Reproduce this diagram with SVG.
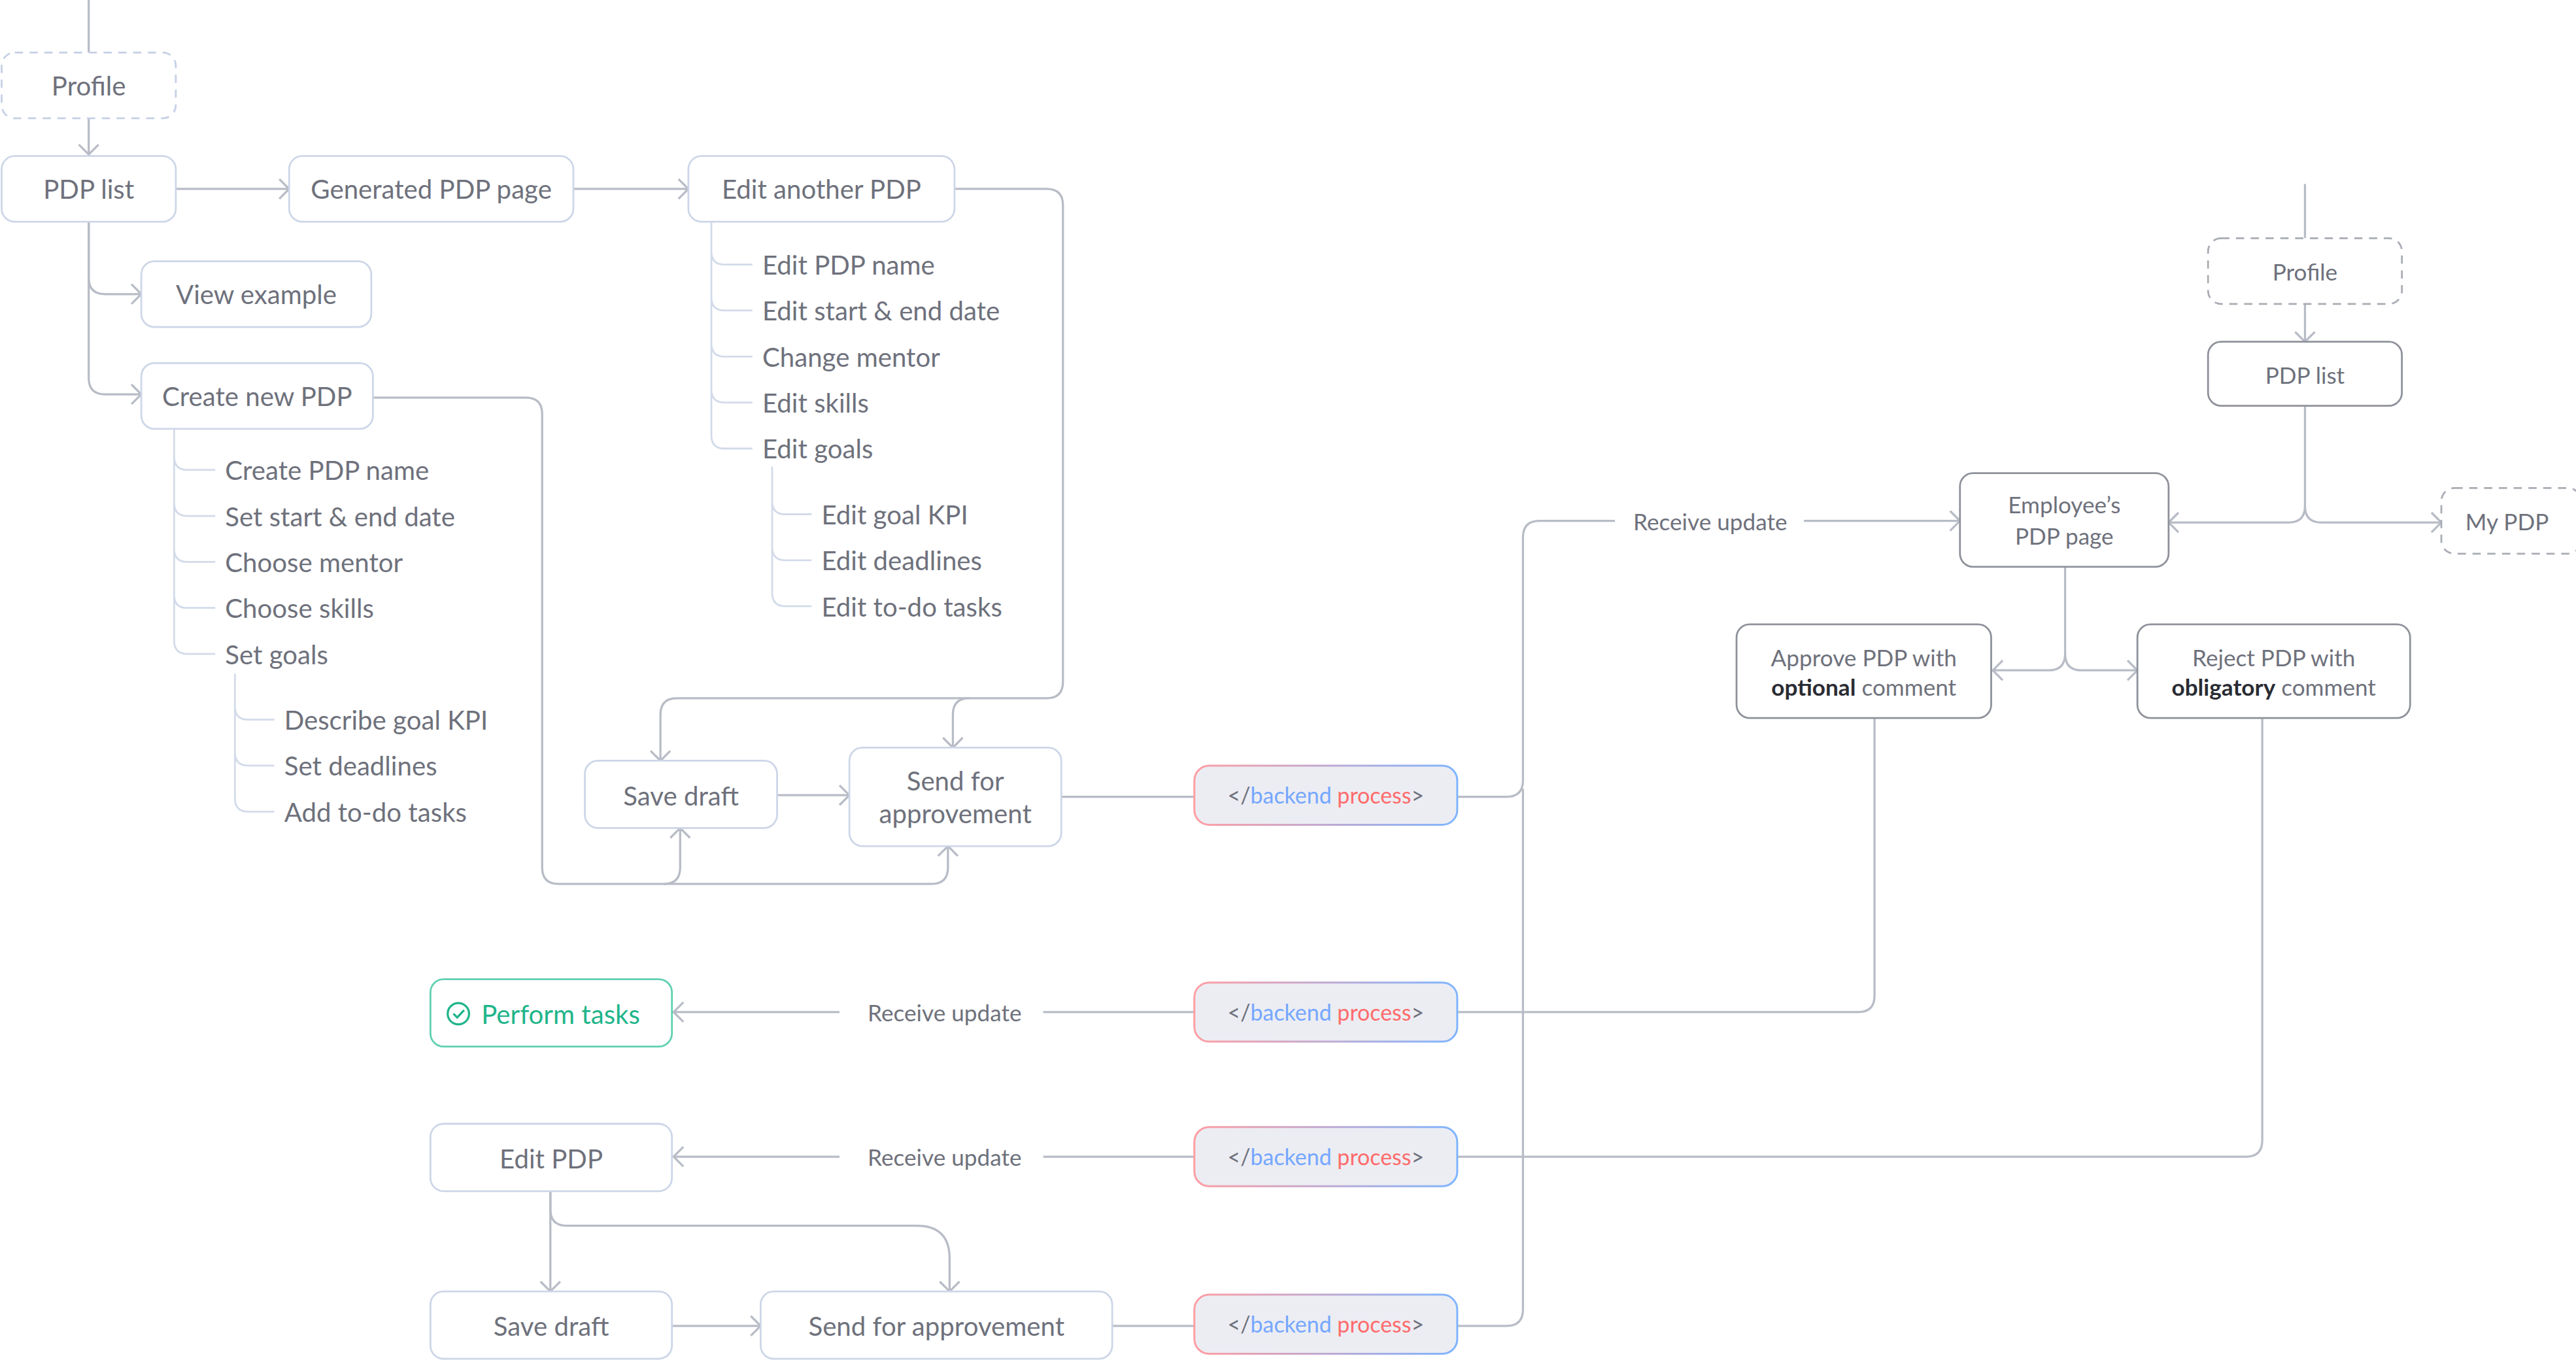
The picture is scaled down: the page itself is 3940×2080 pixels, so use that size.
<svg xmlns="http://www.w3.org/2000/svg" width="3940" height="2080" viewBox="0 0 3940 2080">
<defs>
<style>
.n{fill:#fff;stroke:#cdd6e8;stroke-width:1.1}
.d{fill:#fff;stroke:#b9bcc4;stroke-width:1.1}
.ds{fill:#fff;stroke:#a9acb4;stroke-width:1.1;stroke-dasharray:5 4}
.dl{fill:#fff;stroke:#c5d0e6;stroke-width:1.1;stroke-dasharray:5 4}
.c{fill:none;stroke:#b8bcc6;stroke-width:1.3}
.t{fill:none;stroke:#d3dbea;stroke-width:1.1}
text{font-family:"Lato","Noto Sans",sans-serif;fill:#6e717c;font-size:16px}
.tc{text-anchor:middle;dominant-baseline:central}
.tl{dominant-baseline:central}
.sm{font-size:14px}
.b{font-weight:bold;fill:#2a2c33}
.bp{font-size:13.5px;text-anchor:middle;dominant-baseline:central}
</style>
<linearGradient id="g" x1="0" y1="0" x2="1" y2="0"><stop offset="0" stop-color="#ff9ea3"/><stop offset="1" stop-color="#80b5ff"/></linearGradient>
<marker id="a" markerUnits="userSpaceOnUse" markerWidth="12" markerHeight="14" refX="8" refY="7" orient="auto"><path d="M2,1 L8,7 L2,13" fill="none" stroke="#b8bcc6" stroke-width="1.3"/></marker>
</defs>
<rect width="3940" height="2080" fill="#fff"/>
<g transform="scale(2.5128)">
<g id="connectors">
<path class="c" d="M54,0 V32"/>
<path class="c" d="M54,72 V94" marker-end="url(#a)"/>
<path class="c" d="M107,115 H176" marker-end="url(#a)"/>
<path class="c" d="M349,115 H419" marker-end="url(#a)"/>
<path class="c" d="M54,135 V169 Q54,179 64,179 H86" marker-end="url(#a)"/>
<path class="c" d="M54,135 V230 Q54,240 64,240 H86" marker-end="url(#a)"/>
<path class="c" d="M581,115 H637 Q647,115 647,125 V415 Q647,425 637,425 H412 Q402,425 402,435 V463" marker-end="url(#a)"/>
<path class="c" d="M590,425 Q580,425 580,435 V455" marker-end="url(#a)"/>
<path class="c" d="M227,242 H320 Q330,242 330,252 V528 Q330,538 340,538 H404 Q414,538 414,528 V504" marker-end="url(#a)"/>
<path class="c" d="M404,538 H567 Q577,538 577,528 V515" marker-end="url(#a)"/>
<path class="c" d="M473,484 H517" marker-end="url(#a)"/>
<path class="c" d="M646,485 H727"/>
<path class="c" d="M887,485 H917 Q927,485 927,475 V327 Q927,317 937,317 H983"/>
<path class="c" d="M1098,317 H1193" marker-end="url(#a)"/>
<path class="c" d="M887,807 H917 Q927,807 927,797 V480"/>
<path class="c" d="M1403,112 V145"/>
<path class="c" d="M1403,185 V208" marker-end="url(#a)"/>
<path class="c" d="M1403,247 V308 Q1403,318 1393,318 H1320" marker-end="url(#a)"/>
<path class="c" d="M1403,308 Q1403,318 1413,318 H1486" marker-end="url(#a)"/>
<path class="c" d="M1257,345 V398 Q1257,408 1247,408 H1213" marker-end="url(#a)"/>
<path class="c" d="M1257,398 Q1257,408 1267,408 H1301" marker-end="url(#a)"/>
<path class="c" d="M1141,437 V606 Q1141,616 1131,616 H887"/>
<path class="c" d="M727,616 H635"/>
<path class="c" d="M511,616 H410" marker-end="url(#a)"/>
<path class="c" d="M1377,437 V694 Q1377,704 1367,704 H887"/>
<path class="c" d="M727,704 H635"/>
<path class="c" d="M511,704 H410" marker-end="url(#a)"/>
<path class="c" d="M335,725 V786" marker-end="url(#a)"/>
<path class="c" d="M335,725 V736 Q335,746 345,746 H558 Q578,746 578,766 V786" marker-end="url(#a)"/>
<path class="c" d="M409,807 H463" marker-end="url(#a)"/>
<path class="c" d="M677,807 H727"/>
<path class="t" d="M106,261 V278 Q106,286 114,286 H131 M106,278 V306 Q106,314 114,314 H131 M106,306 V334 Q106,342 114,342 H131 M106,334 V362 Q106,370 114,370 H131 M106,362 V390 Q106,398 114,398 H131"/>
<path class="t" d="M143,410 V430 Q143,438 151,438 H167 M143,430 V458 Q143,466 151,466 H167 M143,458 V486 Q143,494 151,494 H167"/>
<path class="t" d="M433,135 V153 Q433,161 441,161 H458 M433,153 V181 Q433,189 441,189 H458 M433,181 V209 Q433,217 441,217 H458 M433,209 V237 Q433,245 441,245 H458 M433,237 V265 Q433,273 441,273 H458"/>
<path class="t" d="M470,284 V305 Q470,313 478,313 H494 M470,305 V333 Q470,341 478,341 H494 M470,333 V361 Q470,369 478,369 H494"/>
</g>
<g id="profile1"><rect class="dl" x="1" y="32" width="106" height="40" rx="8"/><text class="tc" x="54" y="52">Profile</text></g>
<g id="pdplist1"><rect class="n" x="1" y="95" width="106" height="40" rx="8"/><text class="tc" x="54" y="115">PDP list</text></g>
<g id="generated"><rect class="n" x="176" y="95" width="173" height="40" rx="8"/><text class="tc" x="262.5" y="115">Generated PDP page</text></g>
<g id="editanother"><rect class="n" x="419" y="95" width="162" height="40" rx="8"/><text class="tc" x="500" y="115">Edit another PDP</text></g>
<g id="viewexample"><rect class="n" x="86" y="159" width="140" height="40" rx="8"/><text class="tc" x="156" y="179">View example</text></g>
<g id="createnew"><rect class="n" x="86" y="221" width="141" height="40" rx="8"/><text class="tc" x="156.5" y="241">Create new PDP</text></g>
<g id="createitems">
<text class="tl" x="137" y="286">Create PDP name</text>
<text class="tl" x="137" y="314">Set start &amp; end date</text>
<text class="tl" x="137" y="342">Choose mentor</text>
<text class="tl" x="137" y="370">Choose skills</text>
<text class="tl" x="137" y="398">Set goals</text>
<text class="tl" x="173" y="438">Describe goal KPI</text>
<text class="tl" x="173" y="466">Set deadlines</text>
<text class="tl" x="173" y="494">Add to-do tasks</text>
</g>
<g id="edititems">
<text class="tl" x="464" y="161">Edit PDP name</text>
<text class="tl" x="464" y="189">Edit start &amp; end date</text>
<text class="tl" x="464" y="217">Change mentor</text>
<text class="tl" x="464" y="245">Edit skills</text>
<text class="tl" x="464" y="273">Edit goals</text>
<text class="tl" x="500" y="313">Edit goal KPI</text>
<text class="tl" x="500" y="341">Edit deadlines</text>
<text class="tl" x="500" y="369">Edit to-do tasks</text>
</g>
<g id="savedraft1"><rect class="n" x="356" y="463" width="117" height="41" rx="8"/><text class="tc" x="414.5" y="484">Save draft</text></g>
<g id="send1"><rect class="n" x="517" y="455" width="129" height="60" rx="8"/><text class="tc" x="581.5" y="475">Send for</text><text class="tc" x="581.5" y="495">approvement</text></g>
<g id="backend1"><rect x="727" y="466" width="160" height="36" rx="9" fill="#ecedf3" stroke="url(#g)" stroke-width="1.2"/><text class="bp" x="807" y="484">&lt;/<tspan fill="#74a7ff">backend</tspan> <tspan fill="#ff6b6b">process</tspan>&gt;</text></g>
<g id="backend2"><rect x="727" y="598" width="160" height="36" rx="9" fill="#ecedf3" stroke="url(#g)" stroke-width="1.2"/><text class="bp" x="807" y="616">&lt;/<tspan fill="#74a7ff">backend</tspan> <tspan fill="#ff6b6b">process</tspan>&gt;</text></g>
<g id="backend3"><rect x="727" y="686" width="160" height="36" rx="9" fill="#ecedf3" stroke="url(#g)" stroke-width="1.2"/><text class="bp" x="807" y="704">&lt;/<tspan fill="#74a7ff">backend</tspan> <tspan fill="#ff6b6b">process</tspan>&gt;</text></g>
<g id="backend4"><rect x="727" y="788" width="160" height="36" rx="9" fill="#ecedf3" stroke="url(#g)" stroke-width="1.2"/><text class="bp" x="807" y="806">&lt;/<tspan fill="#74a7ff">backend</tspan> <tspan fill="#ff6b6b">process</tspan>&gt;</text></g>
<g id="labels">
<text class="tc sm" x="1041" y="317">Receive update</text>
<text class="tc sm" x="575" y="616">Receive update</text>
<text class="tc sm" x="575" y="704">Receive update</text>
</g>
<g id="perform"><rect x="262" y="596" width="147" height="41" rx="8" fill="#fff" stroke="#5fd0b0" stroke-width="1.1"/><circle cx="279" cy="617" r="6.5" fill="none" stroke="#1fb58a" stroke-width="1.3"/><path d="M276,617 L278.3,619.3 L282.5,614.8" fill="none" stroke="#1fb58a" stroke-width="1.3"/><text class="tl" x="293" y="617" style="fill:#1fb58a">Perform tasks</text></g>
<g id="editpdp"><rect class="n" x="262" y="684" width="147" height="41" rx="8"/><text class="tc" x="335.5" y="705">Edit PDP</text></g>
<g id="savedraft2"><rect class="n" x="262" y="786" width="147" height="41" rx="8"/><text class="tc" x="335.5" y="807">Save draft</text></g>
<g id="send2"><rect class="n" x="463" y="786" width="214" height="41" rx="8"/><text class="tc" x="570" y="807">Send for approvement</text></g>
<g id="profile2"><rect class="ds" x="1344" y="145" width="118" height="40" rx="8"/><text class="tc sm" x="1403" y="165">Profile</text></g>
<g id="pdplist2"><rect class="d" x="1344" y="208" width="118" height="39" rx="8" style="stroke:#8e919a"/><text class="tc sm" x="1403" y="228">PDP list</text></g>
<g id="mypdp"><rect class="ds" x="1486" y="297" width="85" height="40" rx="8"/><text class="tc sm" x="1526" y="317">My PDP</text></g>
<g id="employee"><rect class="d" x="1193" y="288" width="127" height="57" rx="8" style="stroke:#8e919a"/><text class="tc sm" x="1256.5" y="307">Employee’s</text><text class="tc sm" x="1256.5" y="326">PDP page</text></g>
<g id="approve"><rect class="d" x="1057" y="380" width="155" height="57" rx="8" style="stroke:#8e919a"/><text class="tc sm" x="1134.5" y="400">Approve PDP with</text><text class="tc sm" x="1134.5" y="418"><tspan class="b">optional</tspan> comment</text></g>
<g id="reject"><rect class="d" x="1301" y="380" width="166" height="57" rx="8" style="stroke:#8e919a"/><text class="tc sm" x="1384" y="400">Reject PDP with</text><text class="tc sm" x="1384" y="418"><tspan class="b">obligatory</tspan> comment</text></g>
</g>
</svg>
